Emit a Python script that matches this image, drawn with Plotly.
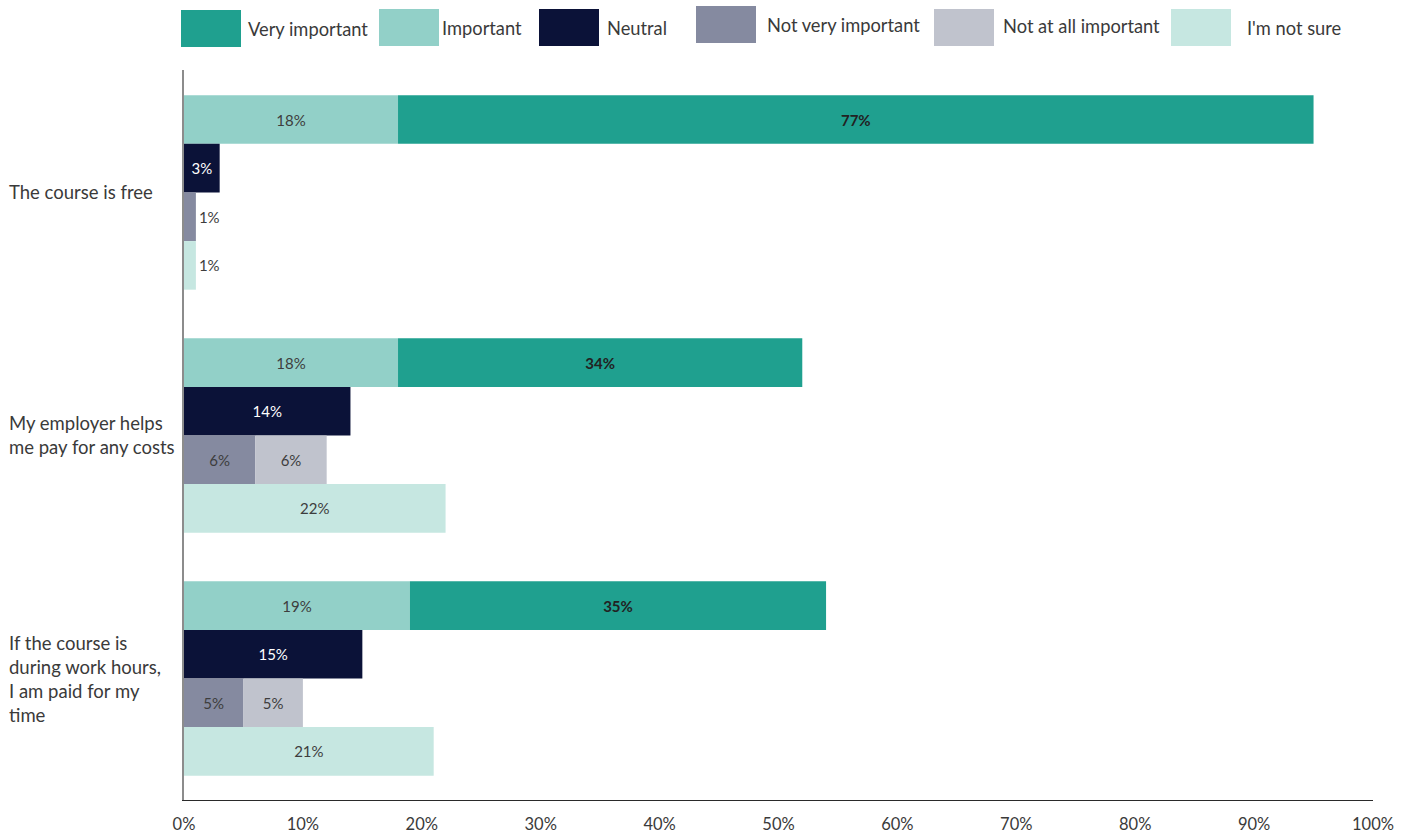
import plotly.graph_objects as go

# Survey results: importance of each factor (% of respondents)
categories = [
    "The course is free",
    "My employer helps<br>me pay for any costs",
    "If the course is<br>during work hours,<br>I am paid for my<br>time",
]
very_important = [77, 34, 35]
important = [18, 18, 19]
neutral = [3, 14, 15]
not_very_important = [1, 6, 5]
not_at_all_important = [0, 6, 5]
not_sure = [1, 22, 21]

x_ticks = list(range(0, 101, 10))
x_tick_text = [f"{t}%" for t in x_ticks]

colors = {
    "Very important": "#1fa08f",
    "Important": "#92d0c8",
    "Neutral": "#0b1238",
    "Not very important": "#858aa0",
    "Not at all important": "#c0c3cd",
    "I'm not sure": "#c6e7e1",
}

FONT = "Lato, 'Open Sans', sans-serif"
TEXT_GREY = "#3a3a3a"
ROWS_PER_GROUP = 5  # four bar rows plus one blank spacer row


def rows(offset):
    return [g * ROWS_PER_GROUP + offset for g in range(len(categories))]


def labels(vals):
    return [f"{v}%" if v > 0 else "" for v in vals]


fig = go.Figure()


def add_bar(name, vals, row_offset, base=None, txt_color="#3d3d3d", bold=False):
    txt = labels(vals)
    if bold:
        txt = [f"<b>{t}</b>" if t else "" for t in txt]
    fig.add_trace(go.Bar(
        name=name,
        x=vals,
        y=rows(row_offset),
        base=base,
        orientation="h",
        width=1.0,
        marker=dict(color=colors[name], line=dict(width=0)),
        text=txt,
        textposition="auto",
        insidetextanchor="middle",
        textangle=0,
        insidetextfont=dict(family=FONT, size=15, color=txt_color),
        outsidetextfont=dict(family=FONT, size=15, color="#3d3d3d"),
        cliponaxis=False,
        showlegend=False,
    ))


add_bar("Important", important, 0)
add_bar("Very important", very_important, 0, base=important, txt_color="#222222", bold=True)
add_bar("Neutral", neutral, 1, txt_color="#ffffff")
add_bar("Not very important", not_very_important, 2)
add_bar("Not at all important", not_at_all_important, 2, base=not_very_important)
add_bar("I'm not sure", not_sure, 3)

W, H = 1411, 836
ML, MR, MT, MB = 184, 38, 70, 36
PW, PH = W - ML - MR, H - MT - MB


def px_x(px):
    return (px - ML) / PW


def px_y(py):
    return 1 - (py - MT) / PH


# Category labels, left aligned at the page edge, centred on each group
annotations = []
for g, cat in enumerate(categories):
    annotations.append(dict(
        text=cat, xref="paper", yref="y",
        x=px_x(7), y=g * ROWS_PER_GROUP + 1.5,
        xanchor="left", yanchor="middle", align="left", showarrow=False,
        font=dict(family=FONT, size=18.5, color=TEXT_GREY),
    ))

# Legend drawn as large colour blocks with labels
legend_items = [
    # name, box left, box top, text left, text centre y
    ("Very important", 181, 10, 246, 29),
    ("Important", 379, 9, 440, 28),
    ("Neutral", 539, 9, 605, 28),
    ("Not very important", 696, 6, 765, 25),
    ("Not at all important", 934, 9, 1001, 26),
    ("I'm not sure", 1171, 9, 1245, 28),
]
shapes = []
for name, bx, by, tx, ty in legend_items:
    shapes.append(dict(
        type="rect", xref="paper", yref="paper",
        x0=px_x(bx), x1=px_x(bx + 60), y0=px_y(by + 37), y1=px_y(by),
        fillcolor=colors[name], line=dict(width=0), layer="above",
    ))
    annotations.append(dict(
        text=name, xref="paper", yref="paper",
        x=px_x(tx), y=px_y(ty), xanchor="left", yanchor="middle",
        showarrow=False, font=dict(family=FONT, size=18.3, color=TEXT_GREY),
    ))

fig.update_layout(
    width=W, height=H,
    margin=dict(l=ML, r=MR, t=MT, b=MB, autoexpand=False),
    barmode="overlay",
    plot_bgcolor="white", paper_bgcolor="white",
    font=dict(family=FONT, color="#3d3d3d"),
    shapes=shapes,
    annotations=annotations,
    xaxis=dict(
        range=[0, 100], tickmode="array", tickvals=x_ticks, ticktext=x_tick_text,
        showgrid=False, zeroline=False, showline=True, linecolor="#2a2a2a",
        linewidth=1.2, ticks="", ticklabelstandoff=9, automargin=False,
        tickfont=dict(family=FONT, size=16.5, color=TEXT_GREY),
    ),
    yaxis=dict(
        range=[14.0, -1.02], showticklabels=False, showgrid=False,
        zeroline=False, showline=True, linecolor="#8c8c8c", linewidth=1.6,
        ticks="", automargin=False,
    ),
)

fig.write_html("out.html")
